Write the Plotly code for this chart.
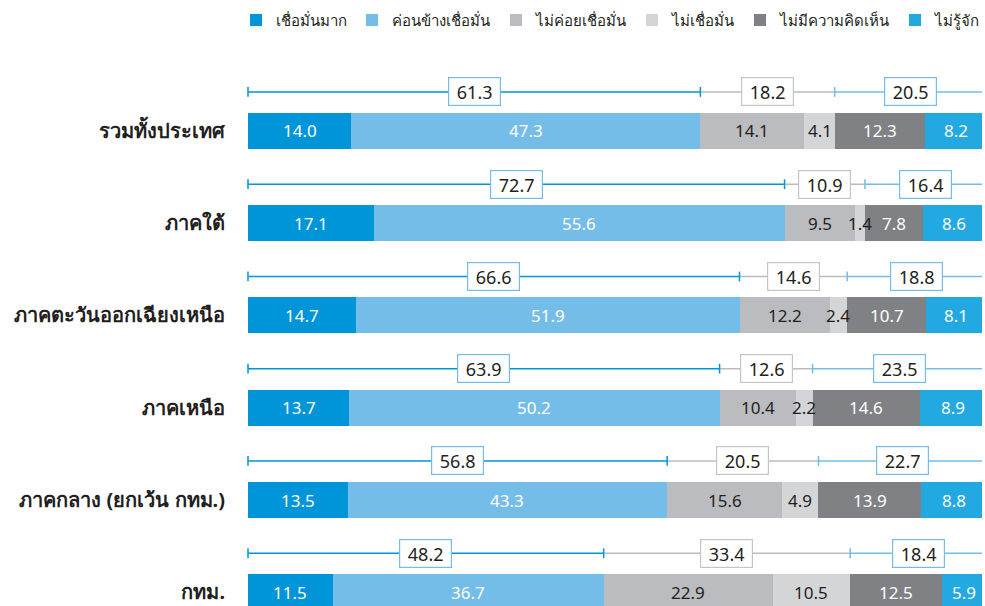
import plotly.graph_objects as go

categories = ["รวมทั้งประเทศ", "ภาคใต้", "ภาคตะวันออกเฉียงเหนือ", "ภาคเหนือ",
              "ภาคกลาง (ยกเว้น กทม.)", "กทม."]
series_names = ["เชื่อมั่นมาก", "ค่อนข้างเชื่อมั่น", "ไม่ค่อยเชื่อมั่น", "ไม่เชื่อมั่น",
                "ไม่มีความคิดเห็น", "ไม่รู้จัก"]
very_confident = [14.0, 17.1, 14.7, 13.7, 13.5, 11.5]
fairly_confident = [47.3, 55.6, 51.9, 50.2, 43.3, 36.7]
not_very_confident = [14.1, 9.5, 12.2, 10.4, 15.6, 22.9]
not_confident = [4.1, 1.4, 2.4, 2.2, 4.9, 10.5]
no_opinion = [12.3, 7.8, 10.7, 14.6, 13.9, 12.5]
unknown = [8.2, 8.6, 8.1, 8.9, 8.8, 5.9]
group_confident = [61.3, 72.7, 66.6, 63.9, 56.8, 48.2]
group_not_confident = [18.2, 10.9, 14.6, 12.6, 20.5, 33.4]
group_other = [20.5, 16.4, 18.8, 23.5, 22.7, 18.4]

series_values = [very_confident, fairly_confident, not_very_confident,
                 not_confident, no_opinion, unknown]
colors = ["#0095D9", "#74BDE8", "#BBBCC0", "#D4D5D7", "#808185", "#22A9E1"]
text_colors = ["white", "white", "#231F20", "#231F20", "white", "white"]
legend_ids = ["legend", "legend", "legend2", "legend2", "legend2", "legend2"]
group_line_colors = ["#0095D9", "#BBBCC0", "#74BDE8"]
group_box_colors = ["#74BDE8", "#C4C5C8", "#74BDE8"]

FONT = "Noto Sans, sans-serif"
rows = list(range(len(categories)))
bracket_off = 0.423

fig = go.Figure()
annotations = []
cum = [0.0] * len(rows)
for name, vals, col, tcol, lg in zip(series_names, series_values, colors,
                                     text_colors, legend_ids):
    fig.add_trace(go.Bar(
        y=rows, x=vals, name=name, orientation="h", width=0.39, legend=lg,
        marker=dict(color=col, line=dict(width=0)),
        hoverinfo="skip",
    ))
    for r in rows:
        annotations.append(dict(
            x=cum[r] + vals[r] / 2, y=r, xref="x", yref="y",
            text=f"{vals[r]:.1f}", showarrow=False,
            font=dict(family=FONT, size=17, color=tcol),
        ))
        cum[r] += vals[r]

groups = [group_confident, group_not_confident, group_other]
starts = [[0.0] * len(rows), group_confident,
          [a + b for a, b in zip(group_confident, group_not_confident)]]

for gi, (gvals, gstart) in enumerate(zip(groups, starts)):
    xs, ys = [], []
    for r in rows:
        xs += [gstart[r], gstart[r] + gvals[r], None]
        ys += [r - bracket_off, r - bracket_off, None]
    fig.add_trace(go.Scatter(x=xs, y=ys, mode="lines", showlegend=False,
                             line=dict(color=group_line_colors[gi], width=1.5),
                             hoverinfo="skip", cliponaxis=False))

# tick marks at bracket boundaries
tick_sets = [([0.0] * len(rows), group_line_colors[0]),
             (group_confident, group_line_colors[0]),
             (starts[2], group_line_colors[2])]
for tx, tc in tick_sets:
    fig.add_trace(go.Scatter(x=tx, y=[r - bracket_off for r in rows], mode="markers",
                             marker=dict(symbol="line-ns", size=7,
                                         line=dict(color=tc, width=1.5)),
                             showlegend=False, hoverinfo="skip", cliponaxis=False))

for gi, (gvals, gstart) in enumerate(zip(groups, starts)):
    for r in rows:
        annotations.append(dict(
            x=gstart[r] + gvals[r] / 2, y=r - bracket_off, xref="x", yref="y",
            text=f"{gvals[r]:.1f}", showarrow=False,
            font=dict(family=FONT, size=18, color="#231F20"),
            bgcolor="white", bordercolor=group_box_colors[gi], borderwidth=1.2,
            borderpad=2, width=47, height=23,
        ))

legend_font = dict(family=FONT, size=15, color="#231F20")
fig.update_layout(
    width=985, height=606,
    margin=dict(l=248, r=0, t=40, b=0),
    barmode="stack",
    plot_bgcolor="white", paper_bgcolor="white",
    font=dict(family=FONT, color="#231F20"),
    xaxis=dict(range=[0, 99.46], visible=False, fixedrange=True),
    yaxis=dict(range=[5.149, -0.986], tickvals=rows, ticktext=categories,
               tickfont=dict(family=FONT, size=20, color="#231F20", weight="bold"),
               showgrid=False, zeroline=False, showline=False, ticks="",
               ticklabelstandoff=22, fixedrange=True),
    legend=dict(orientation="h", x=-0.0163, xanchor="left", y=1.035, yanchor="middle",
                font=legend_font, traceorder="normal", itemwidth=30),
    legend2=dict(orientation="h", x=0.338, xanchor="left", y=1.035, yanchor="middle",
                 font=legend_font, traceorder="normal", itemwidth=30),
    annotations=annotations,
    showlegend=True,
)

fig.write_html("out.html", config={"displayModeBar": False},
               post_script="document.body.style.margin='0';"
                           "document.body.style.overflow='hidden';")
